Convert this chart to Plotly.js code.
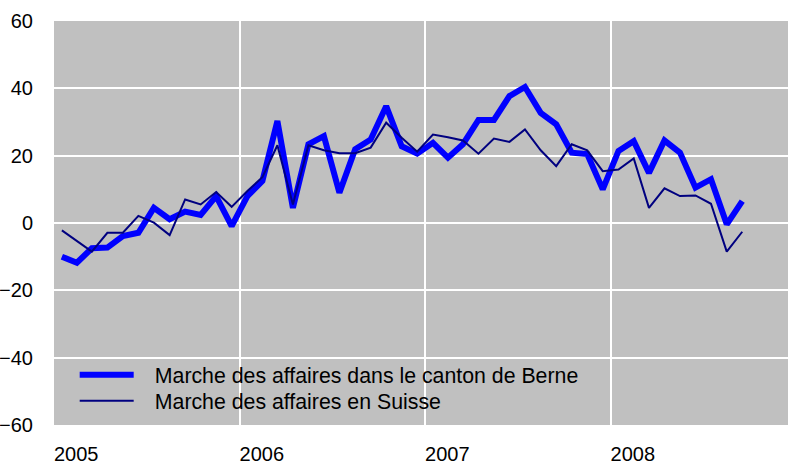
<!DOCTYPE html>
<html>
<head>
<meta charset="utf-8">
<script src="https://cdn.plot.ly/plotly-3.0.1.min.js"></script>
<style>html,body{margin:0;padding:0;background:#fff;}#chart{width:788px;height:465px;}</style>
</head>
<body>
<div id="chart"></div>
<script>
const months = [
  '2005-01','2005-02','2005-03','2005-04','2005-05','2005-06','2005-07','2005-08','2005-09','2005-10','2005-11','2005-12',
  '2006-01','2006-02','2006-03','2006-04','2006-05','2006-06','2006-07','2006-08','2006-09','2006-10','2006-11','2006-12',
  '2007-01','2007-02','2007-03','2007-04','2007-05','2007-06','2007-07','2007-08','2007-09','2007-10','2007-11','2007-12',
  '2008-01','2008-02','2008-03','2008-04','2008-05','2008-06','2008-07','2008-08','2008-09'
];
const berne = [
  -10.0, -11.8, -7.5, -7.3, -3.9, -2.9, 4.5, 1.1, 3.4, 2.4, 8.0, -0.9,
  8.0, 12.5, 30.3, 4.5, 23.4, 25.8, 9.0, 21.9, 24.8, 34.7, 22.8, 20.6,
  23.8, 19.4, 23.4, 30.6, 30.6, 37.7, 40.4, 32.7, 29.3, 20.9, 20.5, 10.0,
  21.4, 24.3, 14.9, 24.5, 20.9, 10.5, 13.0, -0.4, 6.5
];
const suisse = [
  -2.2, -5.3, -8.5, -2.9, -2.9, 2.1, 0.1, -3.6, 7.0, 5.5, 9.2, 4.8,
  9.5, 13.6, 23.1, 5.5, 23.1, 21.6, 20.7, 20.7, 22.4, 29.8, 25.3, 21.2,
  26.3, 25.5, 24.5, 20.6, 25.1, 24.1, 27.8, 21.6, 16.9, 23.4, 21.6, 15.4,
  15.9, 19.2, 4.5, 10.3, 8.0, 8.2, 5.7, -8.5, -2.6
];
const seriesNames = ['Marche des affaires dans le canton de Berne', 'Marche des affaires en Suisse'];
const yTicks = [-60, -40, -20, 0, 20, 40, 60];
const xTicks = ['2005-01-01', '2006-01-01', '2007-01-01', '2008-01-01'];
const xTickText = ['2005', '2006', '2007', '2008'];

const fam = 'Liberation Sans, Arial, sans-serif';
const font = {family: fam, size: 20, color: '#000'};
const pad = '\u00a0\u00a0\u2009';

const traces = [
  {x: months, y: berne, name: pad + seriesNames[0], type: 'scatter', mode: 'lines',
   xperiod: 'M1', xperiodalignment: 'middle', legend: 'legend',
   line: {color: '#0000ff', width: 6}},
  {x: months, y: suisse, name: pad + seriesNames[1], type: 'scatter', mode: 'lines',
   xperiod: 'M1', xperiodalignment: 'middle', legend: 'legend2',
   line: {color: '#000080', width: 2}}
];

const legendBase = {
  xanchor: 'left', yanchor: 'middle',
  bgcolor: 'rgba(0,0,0,0)', borderwidth: 0,
  font: {family: fam, size: 21.3, color: '#000'},
  itemwidth: 54
};

const layout = {
  width: 788, height: 465,
  margin: {l: 54, r: 0, t: 21, b: 40, pad: 0},
  paper_bgcolor: '#ffffff',
  plot_bgcolor: '#c0c0c0',
  font: font,
  showlegend: true,
  legend: Object.assign({}, legendBase, {x: 0.0282, y: 0.1238}),
  legend2: Object.assign({}, legendBase, {x: 0.0282, y: 0.0594}),
  shapes: [{
    type: 'rect', xref: 'paper', yref: 'paper', layer: 'between',
    x0: 0.0082, x1: 0.737, y0: 0.0223, y1: 0.1609,
    fillcolor: '#c0c0c0', line: {width: 0}
  }],
  xaxis: {
    type: 'date',
    range: ['2005-01-01', '2008-12-15'],
    tickmode: 'array', tickvals: xTicks, ticktext: xTickText,
    ticklabelposition: 'outside right',
    showgrid: true, gridcolor: '#ffffff', gridwidth: 2,
    ticks: '', ticklabelstandoff: 15,
    showline: false, zeroline: false,
    tickfont: font
  },
  yaxis: {
    range: [-60, 60],
    tickmode: 'array', tickvals: yTicks,
    showgrid: true, gridcolor: '#ffffff', gridwidth: 2,
    zeroline: true, zerolinecolor: '#ffffff', zerolinewidth: 2,
    ticks: 'outside', ticklen: 16, tickcolor: 'rgba(0,0,0,0)',
    showline: false,
    tickfont: font
  }
};

Plotly.newPlot('chart', traces, layout, {displayModeBar: false, staticPlot: true});
</script>
</body>
</html>
